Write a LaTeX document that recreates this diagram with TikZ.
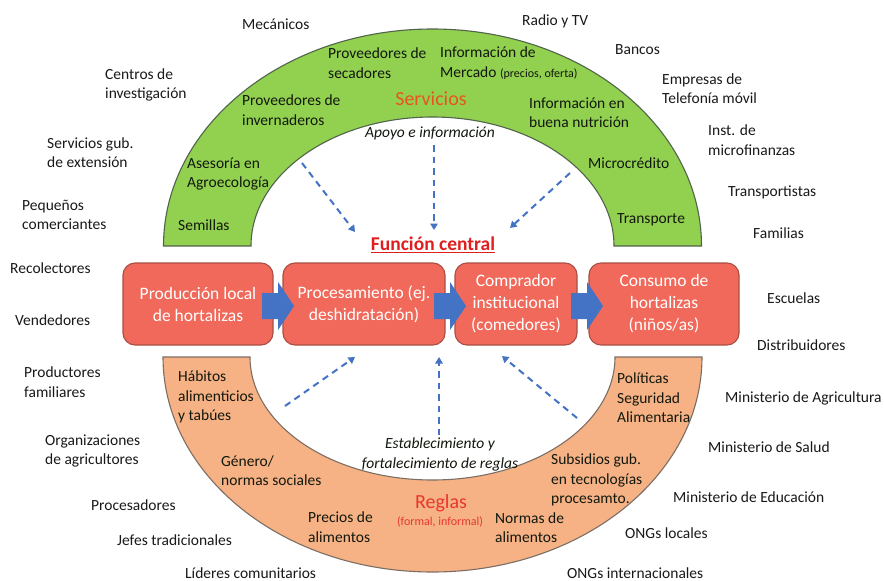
\documentclass[tikz,border=0pt]{standalone}
\usepackage{fontspec}
\setmainfont{Carlito}
\usetikzlibrary{arrows.meta,calc}

\definecolor{gfill}{RGB}{146,208,80}
\definecolor{gline}{RGB}{80,100,75}
\definecolor{ofill}{RGB}{246,178,132}
\definecolor{oline}{RGB}{125,110,100}
\definecolor{bfill}{RGB}{240,105,90}
\definecolor{bline}{RGB}{170,78,68}
\definecolor{arrblue}{RGB}{68,114,196}
\definecolor{txt}{RGB}{25,25,25}
\definecolor{intxt}{RGB}{18,24,14}
\definecolor{servred}{RGB}{232,85,30}
\definecolor{regred}{RGB}{232,55,45}
\definecolor{funred}{RGB}{225,30,30}

\begin{document}
\begin{tikzpicture}[x=1pt,y=-1pt,
  lbl/.style={inner sep=0pt, anchor=west, align=left, text=txt,
    font=\fontsize{15.5}{19.5}\selectfont},
  inlbl/.style={lbl, text=intxt},
  ctrlbl/.style={inner sep=0pt, anchor=center, align=center},
  box/.style={draw=bline, fill=bfill, rounded corners=12pt, line width=1.1pt,
    text=white, align=center, inner sep=2pt,
    font=\fontsize{17.5}{22}\selectfont},
  band/.style={line width=1.1pt},
  dasharr/.style={draw=arrblue, line width=2pt, dash pattern=on 6.5pt off 5pt,
    -{Triangle[length=6.5pt,width=7.5pt]}},
  blockarrow/.pic={\fill[arrblue] (-16,-13) -- (0,-13) -- (0,-24) -- (16,0)
    -- (0,24) -- (0,13) -- (-16,13) -- cycle;}
]
\useasboundingbox (0,0) rectangle (884,581);
\fill[white] (0,0) rectangle (884,581);

% Green band (Servicios)
\path[band, draw=gline, fill=gfill] (163.5,246)
  arc[start angle=180, end angle=0, x radius=269pt, y radius=217pt]
  -- (614,246)
  arc[start angle=0, end angle=180, x radius=181.5pt, y radius=129pt]
  -- cycle;

% Orange band (Reglas)
\path[band, draw=oline, fill=ofill] (163,357)
  arc[start angle=180, end angle=360, x radius=269.5pt, y radius=215pt]
  -- (615,357)
  arc[start angle=0, end angle=-180, x radius=182.5pt, y radius=123pt]
  -- cycle;

% Central boxes
\node[box, minimum width=150pt, minimum height=82pt] (b1) at (198,304) {Producción local\\de hortalizas};
\node[box, minimum width=162pt, minimum height=82pt] (b2) at (364,304) {Procesamiento (ej.\\deshidratación)};
\node[box, minimum width=122pt, minimum height=82pt] (b3) at (516,304) {Comprador\\institucional\\(comedores)};
\node[box, minimum width=150pt, minimum height=82pt] (b4) at (664,304) {Consumo de\\hortalizas\\(niños/as)};

\coordinate (m1) at ($(b1.east)!0.5!(b2.west)+(0,2)$);
\coordinate (m2) at ($(b2.east)!0.5!(b3.west)+(0,2)$);
\coordinate (m3) at ($(b3.east)!0.5!(b4.west)+(4,2)$);
\pic at (m1) {blockarrow};
\pic at (m2) {blockarrow};
\pic at (m3) {blockarrow};

\node[ctrlbl, text=funred, font=\fontsize{19.5}{22}\selectfont\bfseries] (fc) at (433,245) {\underline{Función central}};

% Dashed arrows
\coordinate (t1s) at (302,163); \coordinate (t1e) at (355,232);
\coordinate (t2s) at (434,145); \coordinate (t2e) at (434,230);
\coordinate (t3s) at (570,173); \coordinate (t3e) at (510,228);
\coordinate (u1s) at (285,406); \coordinate (u1e) at (355,357);
\coordinate (u2s) at (439,435); \coordinate (u2e) at (439,357);
\coordinate (u3s) at (577,418); \coordinate (u3e) at (502,356);
\draw[dasharr] (t1s) -- (t1e);
\draw[dasharr] (t2s) -- (t2e);
\draw[dasharr] (t3s) -- (t3e);
\draw[dasharr] (u1s) -- (u1e);
\draw[dasharr] (u2s) -- (u2e);
\draw[dasharr] (u3s) -- (u3e);

% Green band texts
\node[ctrlbl, text=servred, font=\fontsize{20}{22}\selectfont] (serv) at (431,99) {Servicios};
\node[ctrlbl, text=intxt, font=\fontsize{15.5}{19.5}\selectfont\itshape] (apoyo) at (430,133) {Apoyo e información};
\node[inlbl] (g1) at (328,63) {Proveedores de\\secadores};
\node[inlbl] (g2) at (440,63) {Información de\\Mercado {\fontsize{12}{19.5}\selectfont(precios, oferta)}};
\node[inlbl] (g3) at (242,110) {Proveedores de\\invernaderos};
\node[inlbl] (g4) at (529,112.5) {Información en\\buena nutrición};
\node[inlbl] (g5) at (187,174) {Asesoría en\\Agroecología};
\node[inlbl] (g6) at (588,163) {Microcrédito};
\node[inlbl] (g7) at (178,225) {Semillas};
\node[inlbl] (g8) at (617,220) {Transporte};

% Orange band texts
\node[ctrlbl, text=regred, font=\fontsize{20}{22}\selectfont] (regl) at (441,503) {Reglas};
\node[ctrlbl, text=regred, font=\fontsize{12}{14}\selectfont] (regl2) at (440,522) {(formal, informal)};
\node[ctrlbl, text=intxt, font=\fontsize{15.5}{19.5}\selectfont\itshape] (estab) at (440,454.5) {Establecimiento y\\fortalecimiento de reglas};
\node[inlbl] (o1) at (178,397) {Hábitos\\alimenticios\\y tabúes};
\node[inlbl] (o2) at (617,398) {Políticas\\Seguridad\\Alimentaria};
\node[inlbl] (o3) at (221,470.5) {Género/\\normas sociales};
\node[inlbl] (o4) at (551,480) {Subsidios gub.\\en tecnologías\\procesamto.};
\node[inlbl] (o5) at (308,527) {Precios de\\alimentos};
\node[inlbl] (o6) at (495,527.5) {Normas de\\alimentos};

% Outside actors, left
\node[lbl] (l1) at (242,24) {Mecánicos};
\node[lbl] (l2) at (105,85) {Centros de\\investigación};
\node[lbl] (l3) at (47,152.5) {Servicios gub.\\de extensión};
\node[lbl] (l4) at (22,215) {Pequeños\\comerciantes};
\node[lbl] (l5) at (10,268) {Recolectores};
\node[lbl] (l6) at (15,320) {Vendedores};
\node[lbl] (l7) at (24,382) {Productores\\familiares};
\node[lbl] (l8) at (45,451) {Organizaciones\\de agricultores};
\node[lbl] (l9) at (91,505) {Procesadores};
\node[lbl] (l10) at (117,540) {Jefes tradicionales};
\node[lbl] (l11) at (185,573) {Líderes comunitarios};

% Outside actors, right
\node[lbl] (r1) at (522,21) {Radio y TV};
\node[lbl] (r2) at (615,50) {Bancos};
\node[lbl] (r3) at (662,88.5) {Empresas de\\Telefonía móvil};
\node[lbl] (r4) at (708,140) {Inst. de\\microfinanzas};
\node[lbl] (r5) at (728,192) {Transportistas};
\node[lbl] (r6) at (753,233) {Familias};
\node[lbl] (r7) at (767,298) {Escuelas};
\node[lbl] (r8) at (757,345) {Distribuidores};
\node[lbl] (r9) at (725,398) {Ministerio de Agricultura};
\node[lbl] (r10) at (708,447) {Ministerio de Salud};
\node[lbl] (r11) at (673,497) {Ministerio de Educación};
\node[lbl] (r12) at (625,533) {ONGs locales};
\node[lbl] (r13) at (567,573) {ONGs internacionales};
\end{tikzpicture}
\end{document}
